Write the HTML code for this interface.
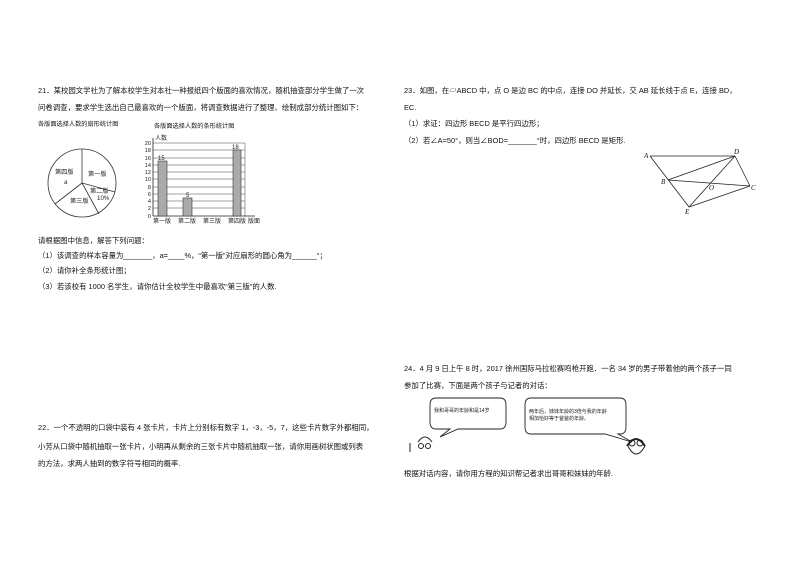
<!DOCTYPE html>
<html><head><meta charset="utf-8"><style>
body{margin:0;background:#fff;}
.p{position:relative;width:794px;height:562px;overflow:hidden;font-family:"Liberation Sans","Noto Sans CJK SC",sans-serif;color:#111;}
.t{position:absolute;white-space:nowrap;font-size:7.4px;line-height:9px;}
.s{font-size:6.2px;}
</style></head><body><div class="p">
<div class="t" style="left:38px;top:86px">21．某校园文学社为了解本校学生对本社一种报纸四个版面的喜欢情况，随机抽查部分学生做了一次</div>
<div class="t" style="left:38px;top:103px">问卷调查，要求学生选出自己最喜欢的一个版面，将调查数据进行了整理、绘制成部分统计图如下：</div>
<div class="t s" style="left:38px;top:120px">各版面选择人数的扇形统计图</div>
<div class="t s" style="left:154px;top:122px">各版面选择人数的条形统计图</div>
<svg style="position:absolute;left:0;top:0" width="794" height="562" font-family="Liberation Sans, Noto Sans CJK SC, sans-serif">
<g fill="none" stroke="#333" stroke-width="0.8">
<circle cx="82" cy="183" r="34"/>
<line x1="82" y1="183" x2="82" y2="149"/>
<line x1="82" y1="183" x2="55" y2="204"/>
<line x1="82" y1="183" x2="115" y2="192"/>
<line x1="82" y1="183" x2="99" y2="214"/>
</g>
<g font-size="6.2" fill="#222">
<text x="55" y="174">第四版</text><text x="64" y="184" font-style="italic">a</text>
<text x="88" y="176">第一版</text>
<text x="90" y="193">第二版</text><text x="97" y="200">10%</text>
<text x="70" y="203">第三版</text>
</g>
<g stroke="#444" stroke-width="0.5">
<line x1="153" y1="143" x2="245" y2="143"/>
<line x1="153" y1="150" x2="245" y2="150"/>
<line x1="153" y1="158" x2="245" y2="158"/>
<line x1="153" y1="165" x2="245" y2="165"/>
<line x1="153" y1="172" x2="245" y2="172"/>
<line x1="153" y1="179" x2="245" y2="179"/>
<line x1="153" y1="187" x2="245" y2="187"/>
<line x1="153" y1="194" x2="245" y2="194"/>
<line x1="153" y1="201" x2="245" y2="201"/>
<line x1="153" y1="208" x2="245" y2="208"/>
<line x1="245" y1="143" x2="245" y2="216"/>
</g>
<g stroke="#222" stroke-width="0.8"><line x1="153" y1="138" x2="153" y2="216"/><line x1="153" y1="216" x2="255" y2="216"/></g>
<g fill="#aaa" stroke="#333" stroke-width="0.6">
<rect x="158" y="161" width="9" height="55"/>
<rect x="183" y="198" width="9" height="18"/>
<rect x="233" y="150" width="8" height="66"/>
</g>
<g font-size="5.6" fill="#222" text-anchor="end">
<text x="151" y="145">20</text><text x="151" y="152">18</text><text x="151" y="160">16</text><text x="151" y="167">14</text><text x="151" y="174">12</text><text x="151" y="181">10</text><text x="151" y="189">8</text><text x="151" y="196">6</text><text x="151" y="203">4</text><text x="151" y="210">2</text><text x="151" y="218">0</text>
</g>
<g font-size="6" fill="#222">
<text x="155" y="140">人数</text>
<text x="158" y="160">15</text><text x="186" y="197">5</text><text x="232" y="149">18</text>
<text x="153" y="223">第一版</text><text x="178" y="223">第二版</text><text x="203" y="223">第三版</text><text x="228" y="223">第四版</text><text x="248" y="223">版面</text>
</g>
<g fill="none" stroke="#222" stroke-width="0.8">
<line x1="650" y1="156" x2="735" y2="156"/>
<line x1="650" y1="156" x2="689" y2="207"/>
<line x1="735" y1="156" x2="750" y2="186"/>
<line x1="668" y1="180" x2="735" y2="156"/>
<line x1="668" y1="180" x2="750" y2="186"/>
<line x1="735" y1="156" x2="689" y2="207"/>
<line x1="689" y1="207" x2="750" y2="186"/>
</g>
<g font-size="7" font-style="italic" font-family="Liberation Serif, serif" fill="#111">
<text x="644" y="158">A</text><text x="734" y="154">D</text><text x="661" y="184">B</text><text x="751" y="190">C</text><text x="709" y="190">O</text><text x="685" y="214">E</text>
</g>
<g fill="#fff" stroke="#222" stroke-width="0.9">
<path d="M436 398 H500 Q506 398 506 405 V422 Q506 429 500 429 H458 L440 437 L450 429 H436 Q430 429 430 422 V405 Q430 398 436 398Z"/>
<path d="M531 398 H620 Q626 398 626 405 V427 Q626 434 620 434 H618 L632 442 L605 434 H531 Q525 434 525 427 V405 Q525 398 531 398Z"/>
</g>
<g font-size="5" fill="#222"><text x="434" y="412">我和哥哥的年龄和是14岁</text><text x="529" y="413">两年后，妹妹年龄的3倍与我的年龄</text><text x="529" y="420">相加恰好等于爸爸的年龄。</text></g>
<g fill="none" stroke="#222" stroke-width="1">
<path d="M418 442 Q425 432 432 442"/><circle cx="421" cy="446" r="2.5"/><circle cx="428" cy="446" r="2.5"/><line x1="410" y1="443" x2="410" y2="452"/>
<path d="M627 446 Q636 432 645 446" stroke-width="2"/><circle cx="632" cy="443" r="3"/><circle cx="640" cy="443" r="3"/><path d="M628 446 Q636 462 645 446"/>
</g>
</svg>
<div class="t" style="left:38px;top:236px">请根据图中信息，解答下列问题：</div>
<div class="t" style="left:38px;top:251px">（1）该调查的样本容量为_______，a=____%，“第一版”对应扇形的圆心角为______°；</div>
<div class="t" style="left:38px;top:266px">（2）请你补全条形统计图；</div>
<div class="t" style="left:38px;top:282px">（3）若该校有 1000 名学生，请你估计全校学生中最喜欢“第三版”的人数.</div>
<div class="t" style="left:38px;top:423px">22．一个不透明的口袋中装有 4 张卡片，卡片上分别标有数字 1，-3，-5，7，这些卡片数字外都相同，</div>
<div class="t" style="left:38px;top:442px">小芳从口袋中随机抽取一张卡片，小明再从剩余的三张卡片中随机抽取一张，请你用画树状图或列表</div>
<div class="t" style="left:38px;top:459px">的方法，求两人抽到的数字符号相同的概率.</div>
<div class="t" style="left:404px;top:86px">23．如图，在▱ABCD 中，点 O 是边 BC 的中点，连接 DO 并延长，交 AB 延长线于点 E，连接 BD，</div>
<div class="t" style="left:404px;top:103px">EC.</div>
<div class="t" style="left:404px;top:119px">（1）求证：四边形 BECD 是平行四边形；</div>
<div class="t" style="left:404px;top:136px">（2）若∠A=50°，则当∠BOD=_______°时，四边形 BECD 是矩形.</div>
<div class="t" style="left:404px;top:364px">24．4 月 9 日上午 8 时，2017 徐州国际马拉松赛鸣枪开跑．一名 34 岁的男子带着他的两个孩子一同</div>
<div class="t" style="left:404px;top:381px">参加了比赛，下面是两个孩子与记者的对话：</div>
<div class="t" style="left:404px;top:469px">根据对话内容，请你用方程的知识帮记者求出哥哥和妹妹的年龄.</div>
</div></body></html>
